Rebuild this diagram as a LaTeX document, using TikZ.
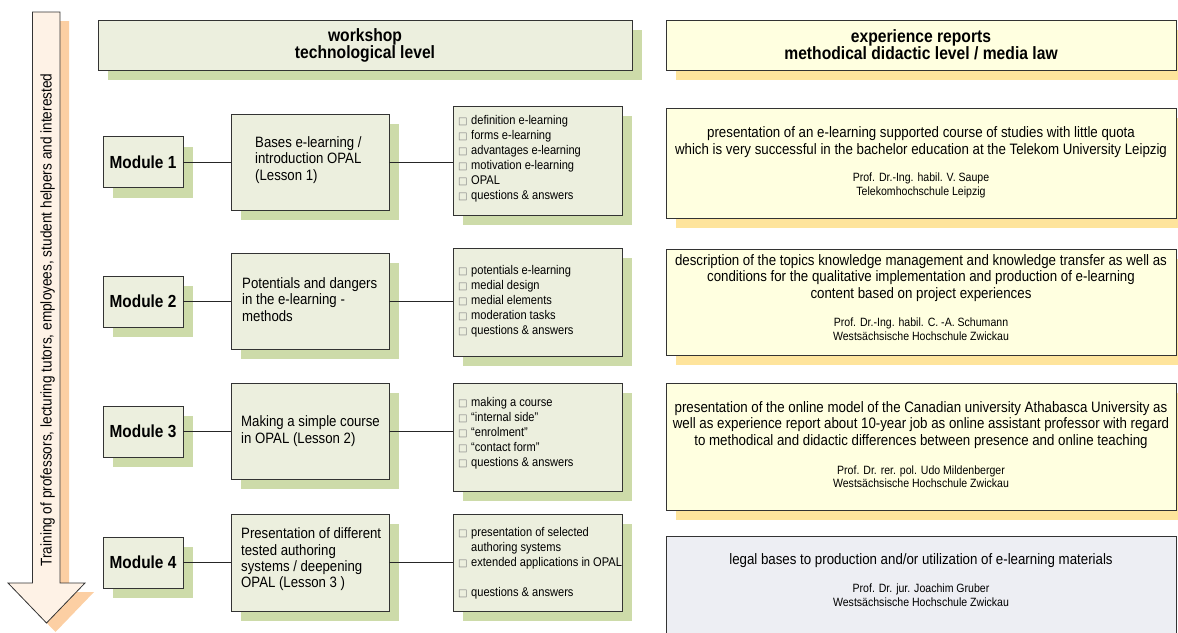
\documentclass[tikz,border=0pt]{standalone}
\usepackage{fontspec}
\setmainfont{Liberation Sans}[FakeStretch=0.88]
\newfontfamily\symfont{DejaVu Sans}
\usetikzlibrary{shadows}
\definecolor{gfill}{HTML}{ECEFDE}
\definecolor{gshadow}{HTML}{CDDBA9}
\definecolor{yfill}{HTML}{FFFFE0}
\definecolor{yshadow}{HTML}{FEE49C}
\definecolor{bfill}{HTML}{EDEEF3}
\definecolor{afill}{HTML}{FEF2E6}
\definecolor{ashadow}{HTML}{FCCFA3}
\newcommand{\bx}{\makebox[13pt][l]{\textcolor{black!50}{\symfont\fontsize{10}{10}\selectfont □}}}
\newcommand{\ind}{\hspace*{13pt}}
\tikzset{
 frame/.style={draw=black!80, line width=0.8pt, inner sep=0pt},
 gbox/.style={frame, fill=gfill, drop shadow={shadow xshift=10pt, shadow yshift=-10pt, fill=gshadow, opacity=1}},
 ybox/.style={frame, fill=yfill, drop shadow={shadow xshift=10pt, shadow yshift=-10pt, fill=yshadow, opacity=1}},
 bbox/.style={frame, fill=bfill},
 headtxt/.style={font=\bfseries\fontsize{17.8}{17}\selectfont, align=center},
 modtxt/.style={font=\bfseries\fontsize{17.5}{18}\selectfont},
 lesstxt/.style={font=\fontsize{15}{16.4}\selectfont, align=left, anchor=west, inner sep=0pt},
 listtxt/.style={font=\fontsize{12.6}{15}\selectfont, align=left, anchor=west, inner sep=0pt},
 maintxt/.style={font=\fontsize{15.1}{16.3}\selectfont, align=center, inner sep=0pt},
 authtxt/.style={font=\fontsize{12}{13.5}\selectfont, align=center, inner sep=0pt},
 conn/.style={draw=black!85, line width=0.8pt},
}
\begin{document}
\begin{tikzpicture}[x=1pt,y=-1pt]
\useasboundingbox (0,0) rectangle (1178,632);
\clip (0,0) rectangle (1178,632);
% left arrow
\fill[ashadow] (41.5,21) -- (69,21) -- (69,592) -- (94,592) -- (55.5,632) -- (17,592) -- (41.5,592) -- cycle;
\draw[fill=afill, draw=black!80, line width=0.8pt] (32.5,12) -- (60,12) -- (60,583) -- (85,583) -- (46.5,623) -- (8,583) -- (32.5,583) -- cycle;
\node[rotate=90, font=\fontsize{15.5}{16}\selectfont, inner sep=0pt] (arrtxt) at (47.5,320) {Training of professors, lecturing tutors, employees, student helpers and interested};
% headers
\node[gbox, headtxt, minimum width=534pt, minimum height=50pt] (h1) at (365,45) {workshop\\technological level};
\node[ybox, headtxt, minimum width=510pt, minimum height=50pt] (h2) at (921,45) {experience reports\\methodical didactic level / media law};
% modules
\node[gbox, modtxt, minimum width=80pt, minimum height=51pt] (m1) at (143,162) {Module 1};
\node[gbox, modtxt, minimum width=80pt, minimum height=51pt] (m2) at (143,301.5) {Module 2};
\node[gbox, modtxt, minimum width=80pt, minimum height=51pt] (m3) at (143,431.5) {Module 3};
\node[gbox, modtxt, minimum width=80pt, minimum height=51pt] (m4) at (143,562.5) {Module 4};
% lessons
\node[gbox, minimum width=158pt, minimum height=96pt] (l1) at (310,162) {};
\node[gbox, minimum width=158pt, minimum height=96pt] (l2) at (310,301) {};
\node[gbox, minimum width=158pt, minimum height=96pt] (l3) at (310,431) {};
\node[gbox, minimum width=158pt, minimum height=97pt] (l4) at (310,562.5) {};
\node[lesstxt] (l1t) at (255,160) {Bases e-learning /\\introduction OPAL\\(Lesson 1)};
\node[lesstxt] (l2t) at (242,299.5) {Potentials and dangers\\in the e-learning -\\methods};
\node[lesstxt] (l3t) at (241,431) {Making a simple course\\in OPAL (Lesson 2)};
\node[lesstxt] (l4t) at (241,559.5) {Presentation of different\\tested authoring\\systems / deepening\\OPAL (Lesson 3 )};
% bullet lists
\node[gbox, minimum width=169pt, minimum height=109pt] (b1) at (537.5,160.5) {};
\node[gbox, minimum width=169pt, minimum height=108pt] (b2) at (537.5,302) {};
\node[gbox, minimum width=169pt, minimum height=108pt] (b3) at (537.5,437) {};
\node[gbox, minimum width=169pt, minimum height=97pt] (b4) at (537.5,562.5) {};
\node[listtxt] (b1t) at (458,159) {\bx definition e-learning\\\bx forms e-learning\\\bx advantages e-learning\\\bx motivation e-learning\\\bx OPAL\\\bx questions \& answers};
\node[listtxt] (b2t) at (458,301) {\bx potentials e-learning\\\bx medial design\\\bx medial elements\\\bx moderation tasks\\\bx questions \& answers};
\node[listtxt] (b3t) at (458,433) {\bx making a course\\\bx “internal side”\\\bx “enrolment”\\\bx “contact form”\\\bx questions \& answers};
\node[listtxt] (b4t) at (458,563) {\bx presentation of selected\\\ind authoring systems\\\bx extended applications in OPAL\\[15pt]\bx questions \& answers};
% right boxes
\node[ybox, minimum width=510pt, minimum height=110pt] (r1) at (921,163) {};
\node[ybox, minimum width=510pt, minimum height=106pt] (r2) at (921,302) {};
\node[ybox, minimum width=510pt, minimum height=127pt] (r3) at (921,446.5) {};
\node[bbox, minimum width=510pt, minimum height=106pt] (r4) at (921,589) {};
\node[maintxt] (r1t) at (921,142) {presentation of an e-learning supported course of studies with little quota\\which is very successful in the bachelor education at the Telekom University Leipzig};
\node[authtxt] (r1a) at (921,185.5) {Prof. Dr.-Ing. habil. V. Saupe\\Telekomhochschule Leipzig};
\node[maintxt] (r2t) at (921,278) {description of the topics knowledge management and knowledge transfer as well as\\conditions for the qualitative implementation and production of e-learning\\content based on project experiences};
\node[authtxt] (r2a) at (921,329) {Prof. Dr.-Ing. habil. C. -A. Schumann\\Westsächsische Hochschule Zwickau};
\node[maintxt] (r3t) at (921,425) {presentation of the online model of the Canadian university Athabasca University as\\well as experience report about 10-year job as online assistant professor with regard\\to methodical and didactic differences between presence and online teaching};
\node[authtxt] (r3a) at (921,476.5) {Prof. Dr. rer. pol. Udo Mildenberger\\Westsächsische Hochschule Zwickau};
\node[maintxt] (r4t) at (921,561) {legal bases to production and/or utilization of e-learning materials};
\node[authtxt] (r4a) at (921,595) {Prof. Dr. jur. Joachim Gruber\\Westsächsische Hochschule Zwickau};
% connectors
\draw[conn] (m1) -- (l1.west |- m1);
\draw[conn] (l1.east |- m1) -- (b1.west |- m1);
\draw[conn] (m2) -- (l2.west |- m2);
\draw[conn] (l2.east |- m2) -- (b2.west |- m2);
\draw[conn] (m3) -- (l3.west |- m3);
\draw[conn] (l3.east |- m3) -- (b3.west |- m3);
\draw[conn] (m4) -- (l4.west |- m4);
\draw[conn] (l4.east |- m4) -- (b4.west |- m4);
\end{tikzpicture}
\end{document}
